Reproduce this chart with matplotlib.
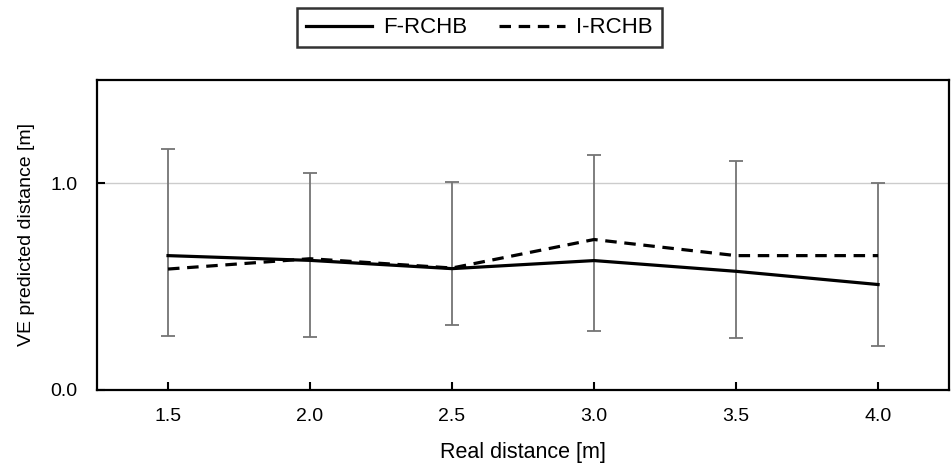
import matplotlib
matplotlib.use("Agg")
import matplotlib.pyplot as plt
import numpy as np

plt.rcParams["font.family"] = ["Liberation Sans", "DejaVu Sans"]

distances = ["1.5", "2.0", "2.5", "3.0", "3.5", "4.0"]
f_rchb = [0.65, 0.627, 0.587, 0.626, 0.574, 0.51]
i_rchb = [0.585, 0.635, 0.59, 0.728, 0.65, 0.65]
err_low = [0.262, 0.254, 0.312, 0.283, 0.252, 0.214]
err_high = [1.168, 1.05, 1.005, 1.136, 1.11, 1.0]

fig = plt.figure(figsize=(9.51, 4.63), dpi=100, facecolor="white")
ax = fig.add_axes([0.102, 0.158, 0.896, 0.669])

x = np.arange(len(distances))
mid = (np.array(err_low) + np.array(err_high)) / 2
half = (np.array(err_high) - np.array(err_low)) / 2
ax.errorbar(x, mid, yerr=half, fmt="none", ecolor="#747474", elinewidth=1.3,
            capsize=5, capthick=1.3, zorder=2)

ax.axhline(1.0, color="#cccccc", lw=1.0, zorder=1)
ax.plot(x, f_rchb, color="black", lw=2.3, label="F-RCHB", zorder=3)
ax.plot(x, i_rchb, color="black", lw=2.3, dashes=(3.6, 2.4), label="I-RCHB", zorder=3)

ax.set_xlim(-0.5, len(distances) - 0.5)
ax.set_ylim(0, 1.5)
ax.set_xticks(x)
ax.set_xticklabels(distances)
ax.set_yticks([0.0, 1.0])
ax.set_yticklabels(["0.0", "1.0"])
ax.tick_params(direction="in", length=6, width=1.5, labelsize=14)
ax.tick_params(axis="x", pad=13)
ax.tick_params(axis="y", pad=14)
for s in ax.spines.values():
    s.set_linewidth(1.6)
    s.set_color("black")

ax.set_xlabel("Real distance [m]", fontsize=15.5, labelpad=12)
ax.set_ylabel("VE predicted distance [m]", fontsize=14, labelpad=11)

leg = fig.legend(loc="center", bbox_to_anchor=(0.504, 0.94), ncol=2, fontsize=16,
                 frameon=True, fancybox=False, edgecolor="black",
                 handlelength=3.0, handletextpad=0.5, columnspacing=1.4,
                 borderpad=0.4, borderaxespad=0)
leg.get_frame().set_linewidth(1.8)

fig.savefig("out.png", dpi=100)
